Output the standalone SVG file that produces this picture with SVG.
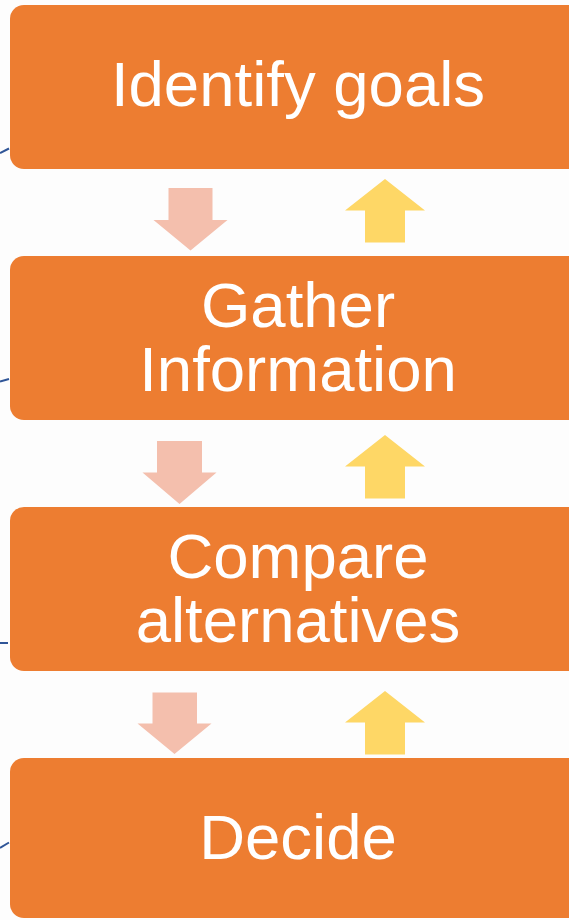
<svg xmlns="http://www.w3.org/2000/svg" width="569" height="920" viewBox="0 0 569 920">
  <style>
    .box { fill: #ED7D31; }
    .lbl { font-family: "Liberation Sans", Arial, sans-serif; font-size: 63.5px; fill: #FFFFFF; text-anchor: middle; }
    .down { fill: #F4BFAD; }
    .up { fill: #FED766; }
    .tick { stroke: #2F5597; stroke-width: 2; fill: none; }
  </style>
  <rect x="0" y="0" width="569" height="920" fill="#FDFDFD"/>
  <g id="edge-ticks">
    <path class="tick" d="M0,153 L9,148.5"/>
    <path class="tick" d="M0,381.5 L9,379"/>
    <path class="tick" d="M0,643 L8,643"/>
    <path class="tick" d="M0,848 L9,842.5"/>
  </g>
  <g id="node-identify">
    <rect class="box" x="10" y="5" width="580" height="164" rx="14"/>
    <text class="lbl" x="298" y="106">Identify goals</text>
  </g>
  <g id="node-gather">
    <rect class="box" x="10" y="256" width="580" height="164" rx="14"/>
    <text class="lbl" x="298" y="326.5">Gather</text>
    <text class="lbl" x="298" y="391">Information</text>
  </g>
  <g id="node-compare">
    <rect class="box" x="10" y="507" width="580" height="164" rx="14"/>
    <text class="lbl" x="298" y="577.5">Compare</text>
    <text class="lbl" x="298" y="642">alternatives</text>
  </g>
  <g id="node-decide">
    <rect class="box" x="10" y="758" width="580" height="160" rx="14"/>
    <text class="lbl" x="298" y="859">Decide</text>
  </g>
  <g id="connectors">
    <polygon class="down" points="168.5,188 212.5,188 212.5,220 227.5,220 190.5,250.5 153.5,220 168.5,220"/>
    <polygon class="down" points="157,441 202,441 202,472.5 216.5,472.5 179.5,504 142.5,472.5 157,472.5"/>
    <polygon class="down" points="152.5,692.5 197,692.5 197,723.5 211.5,723.5 174.5,754 137.5,723.5 152.5,723.5"/>
    <polygon class="up" points="385,179 425,210.5 405,210.5 405,242.5 365,242.5 365,210.5 345,210.5"/>
    <polygon class="up" points="385,435 425,466.5 405,466.5 405,498.5 365,498.5 365,466.5 345,466.5"/>
    <polygon class="up" points="385,691 425,722.5 405,722.5 405,754.5 365,754.5 365,722.5 345,722.5"/>
  </g>
</svg>
